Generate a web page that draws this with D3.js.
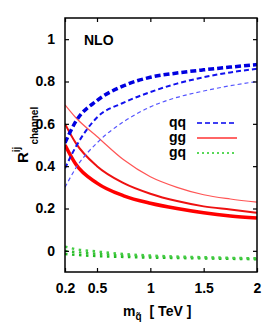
<!DOCTYPE html>
<html><head><meta charset="utf-8">
<script src="https://cdn.jsdelivr.net/npm/d3@7"></script>
<style>body{margin:0;background:#fff}svg{display:block;font-family:"Liberation Sans",Arial,sans-serif}</style>
</head><body>
<script>
const masses = [0.2, 0.3, 0.5, 0.75, 1, 1.25, 1.5, 1.75, 2];
const qqThick = [0.51, 0.61, 0.71, 0.78, 0.82, 0.84, 0.855, 0.868, 0.88];
const qqMed   = [0.39, 0.49, 0.63, 0.70, 0.75, 0.79, 0.82, 0.843, 0.86];
const qqThin  = [0.30, 0.39, 0.51, 0.61, 0.68, 0.725, 0.755, 0.78, 0.80];
const ggThick = [0.50, 0.41, 0.32, 0.26, 0.225, 0.20, 0.18, 0.165, 0.155];
const ggMed   = [0.60, 0.51, 0.40, 0.32, 0.27, 0.235, 0.21, 0.195, 0.18];
const ggThin  = [0.69, 0.63, 0.54, 0.43, 0.35, 0.30, 0.265, 0.245, 0.23];
const gq1 = [0.02, 0.008, -0.003, -0.015, -0.022, -0.027, -0.030, -0.033, -0.035];
const gq2 = [0.0, -0.006, -0.014, -0.022, -0.027, -0.031, -0.033, -0.035, -0.037];
const gq3 = [-0.015, -0.019, -0.025, -0.029, -0.032, -0.034, -0.036, -0.038, -0.040];
const xTicks = [0.2, 0.5, 1, 1.5, 2];
const xTickLabels = ["0.2", "0.5", "1", "1.5", "2"];
const yTicks = [0, 0.2, 0.4, 0.6, 0.8, 1];
const yTickLabels = ["0", "0.2", "0.4", "0.6", "0.8", "1"];
const legendLabels = ["qq", "gg", "gq"];

const W = 266, H = 335;
const L = 65, R = 257, T = 18, B = 272;
const svg = d3.select("body").append("svg").attr("width", W).attr("height", H);
const x = d3.scaleLinear().domain([0.2, 2]).range([L, R]);
const y = d3.scaleLinear().domain([-0.1, 1.1]).range([B, T]);

const series = [
  {v: gq3, c: "#22bb22", w: 2.4, d: "2.5,4.5"},
  {v: gq2, c: "#33c033", w: 2.4, d: "2.5,4.5"},
  {v: gq1, c: "#44cc44", w: 2.4, d: "2.5,4.5"},
  {v: ggThin, c: "#ff5555", w: 1.2, d: null},
  {v: ggMed, c: "#ee1111", w: 2, d: null},
  {v: ggThick, c: "#ff0000", w: 3.5, d: null},
  {v: qqThin, c: "#5555ff", w: 1.2, d: "4,3"},
  {v: qqMed, c: "#1111ee", w: 2, d: "5,3"},
  {v: qqThick, c: "#0000e0", w: 3.5, d: "6,3"}
];
const line = d3.line().x((d, i) => x(masses[i])).y(d => y(d)).curve(d3.curveMonotoneX);
svg.append("defs").append("clipPath").attr("id", "clip").append("rect")
  .attr("x", L).attr("y", T).attr("width", R - L).attr("height", B - T);
const g = svg.append("g").attr("clip-path", "url(#clip)");
series.forEach(s => {
  g.append("path").datum(s.v).attr("d", line).attr("fill", "none")
    .attr("stroke", s.c).attr("stroke-width", s.w)
    .attr("stroke-dasharray", s.d);
});

// frame
svg.append("rect").attr("x", L).attr("y", T).attr("width", R - L).attr("height", B - T)
  .attr("fill", "none").attr("stroke", "#000").attr("stroke-width", 1.5);

const tl = 4;
const axL = svg.append("g").attr("transform", `translate(${L},0)`)
  .call(d3.axisLeft(y).tickValues(yTicks).tickSize(-tl).tickPadding(10).tickFormat((d, i) => yTickLabels[i]));
const axR = svg.append("g").attr("transform", `translate(${R},0)`)
  .call(d3.axisRight(y).tickValues(yTicks).tickSize(-tl).tickFormat(""));
const axB = svg.append("g").attr("transform", `translate(0,${B})`)
  .call(d3.axisBottom(x).tickValues(xTicks).tickSize(-tl).tickPadding(11).tickFormat((d, i) => xTickLabels[i]));
const axT = svg.append("g").attr("transform", `translate(0,${T})`)
  .call(d3.axisTop(x).tickValues(xTicks).tickSize(-tl).tickFormat(""));
[axL, axR, axB, axT].forEach(a => {
  a.select(".domain").remove();
  a.selectAll("line").attr("stroke", "#000").attr("stroke-width", 1.2);
  a.selectAll("text").attr("font-family", "Liberation Sans, Arial, sans-serif")
    .attr("font-size", 14).attr("font-weight", "bold").attr("fill", "#000");
});

svg.append("text").attr("x", 84).attr("y", 45).attr("font-size", 14).attr("font-weight", "bold").text("NLO");

const legY = [123, 138, 153];
const legStyles = [
  {c: "#0000ee", w: 1.5, d: "5,3"},
  {c: "#ff3333", w: 1.5, d: null},
  {c: "#22cc22", w: 1.5, d: "2,3"}
];
legendLabels.forEach((lab, i) => {
  svg.append("text").attr("x", 186).attr("y", legY[i] + 4).attr("text-anchor", "end")
    .attr("font-size", 14).attr("font-weight", "bold").text(lab);
  svg.append("line").attr("x1", 197).attr("x2", 237).attr("y1", legY[i]).attr("y2", legY[i])
    .attr("stroke", legStyles[i].c).attr("stroke-width", legStyles[i].w)
    .attr("stroke-dasharray", legStyles[i].d);
});

// y label
const yl = svg.append("text").attr("transform", "translate(28,163) rotate(-90)")
  .attr("font-weight", "bold").attr("fill", "#000");
yl.append("tspan").attr("font-size", 15).text("R");
yl.append("tspan").attr("font-size", 10).attr("dy", -8).text("ij");
yl.append("tspan").attr("font-size", 10).attr("dx", 2).attr("dy", 18).text("channel");

// x label
const xl = svg.append("text").attr("x", 123).attr("y", 316).attr("font-weight", "bold").attr("fill", "#000");
xl.append("tspan").attr("font-size", 14).text("m");
xl.append("tspan").attr("font-size", 10).attr("dy", 4).text("q\u0303");
xl.append("tspan").attr("font-size", 14).attr("dy", -4).attr("dx", 8).text("[ TeV ]");
</script>
</body></html>
